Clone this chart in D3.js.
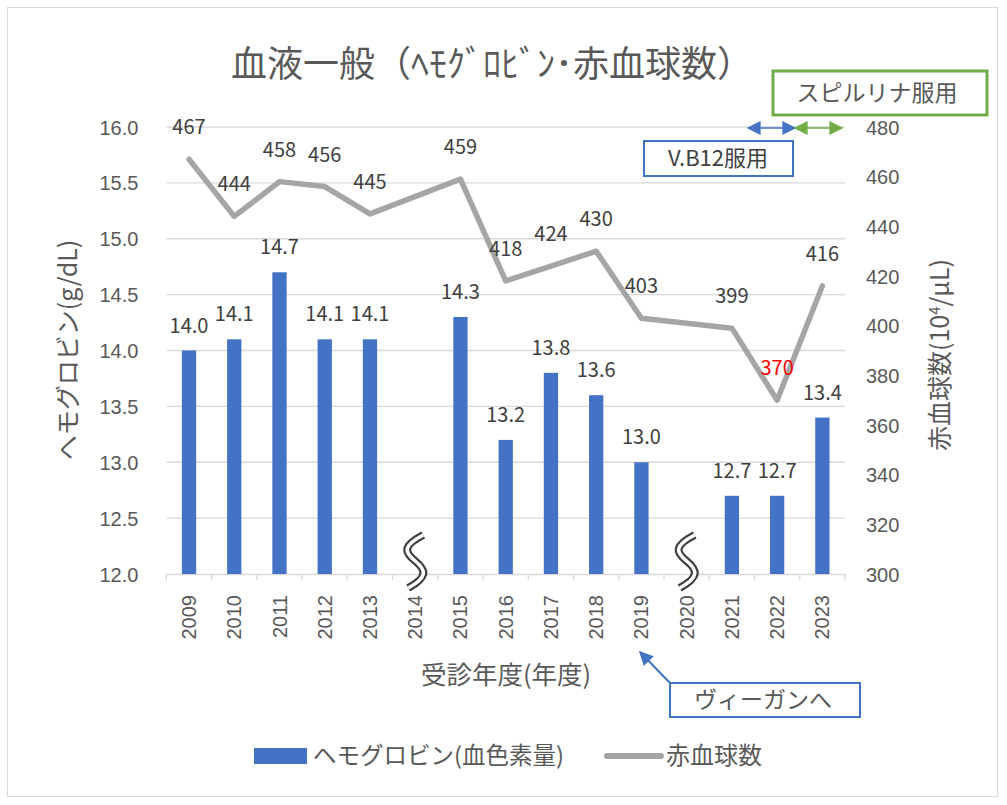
<!DOCTYPE html>
<html><head><meta charset="utf-8">
<script src="https://cdn.jsdelivr.net/npm/d3@7"></script>
<style>
html,body{margin:0;padding:0;background:#fff;}
svg{display:block;font-family:"Noto Sans CJK JP","Noto Sans",sans-serif;}
</style></head>
<body>
<svg id="c" width="1007" height="805"></svg>
<script>
const years = ["2009","2010","2011","2012","2013","2014","2015","2016","2017","2018","2019","2020","2021","2022","2023"];
const hemoglobin = [14.0,14.1,14.7,14.1,14.1,null,14.3,13.2,13.8,13.6,13.0,null,12.7,12.7,13.4];
const rbcCount = [467,444,458,456,445,null,459,418,424,430,403,null,399,370,416];
const leftTicks = [12.0,12.5,13.0,13.5,14.0,14.5,15.0,15.5,16.0];
const rightTicks = [300,320,340,360,380,400,420,440,460,480];
const breakYears = ["2014","2020"];
const highlightYear = "2022";

const svg = d3.select("#c");
const L = 166.4, R = 845, T = 127, B = 574;
const textCol = "#595959", lblCol = "#404040", grid = "#D9D9D9";
const blue = "#4472C4", green = "#70AD47", gray = "#A5A5A5";

// outer border
svg.append("rect").attr("x",7.5).attr("y",7.5).attr("width",990).attr("height",789)
  .attr("fill","none").attr("stroke","#D9D9D9");

const x = d3.scaleBand().domain(years).range([L,R]).paddingInner(0).paddingOuter(0);
const yL = d3.scaleLinear().domain([12,16]).range([B,T]);
const yR = d3.scaleLinear().domain([300,480]).range([B,T]);

// gridlines
svg.append("g").selectAll("line").data(leftTicks.filter(d=>d>12)).join("line")
  .attr("x1",L).attr("x2",R).attr("y1",d=>yL(d)).attr("y2",d=>yL(d))
  .attr("stroke",grid).attr("stroke-width",1.3);

// left axis
const gl = svg.append("g").attr("transform",`translate(${L-28},0)`)
  .call(d3.axisLeft(yL).tickValues(leftTicks).tickFormat(d3.format(".1f")).tickSize(0).tickPadding(0));
gl.select(".domain").remove();
gl.selectAll("text").attr("fill",textCol).attr("font-size",20).attr("dy","0.35em");

// right axis
const gr = svg.append("g").attr("transform",`translate(${R+21},0)`)
  .call(d3.axisRight(yR).tickValues(rightTicks).tickSize(0).tickPadding(0));
gr.select(".domain").remove();
gr.selectAll("text").attr("fill",textCol).attr("font-size",20).attr("dy","0.35em");

// bottom axis
const gb = svg.append("g").attr("transform",`translate(0,${B})`)
  .call(d3.axisBottom(x).tickSize(0).tickPadding(0));
gb.select(".domain").attr("stroke",grid).attr("stroke-width",1.3);
gb.selectAll("text").attr("fill",textCol).attr("font-size",20)
  .attr("transform","rotate(-90)").attr("text-anchor","end")
  .attr("x",-21).attr("y",0).attr("dy","0.35em");
// tick marks at category boundaries
svg.append("g").selectAll("line").data(d3.range(years.length+1)).join("line")
  .attr("x1",i=>L+i*x.step()).attr("x2",i=>L+i*x.step())
  .attr("y1",B).attr("y2",B+6).attr("stroke",grid).attr("stroke-width",1.3);

// bars
const bw = 14.3;
const barData = years.map((y,i)=>({y,v:hemoglobin[i]})).filter(d=>d.v!=null);
svg.append("g").selectAll("rect").data(barData).join("rect")
  .attr("x",d=>x(d.y)+x.bandwidth()/2-bw/2).attr("width",bw)
  .attr("y",d=>yL(d.v)).attr("height",d=>B-yL(d.v)).attr("fill",blue);
svg.append("g").selectAll("text").data(barData).join("text")
  .attr("x",d=>x(d.y)+x.bandwidth()/2).attr("y",d=>yL(d.v)-25).attr("dy","0.35em")
  .attr("text-anchor","middle").attr("font-size",20).attr("fill",lblCol)
  .text(d=>d3.format(".1f")(d.v));

// line
const lineData = years.map((y,i)=>({y,v:rbcCount[i]})).filter(d=>d.v!=null);
const line = d3.line().x(d=>x(d.y)+x.bandwidth()/2).y(d=>yR(d.v));
svg.append("path").datum(lineData).attr("d",line).attr("fill","none")
  .attr("stroke",gray).attr("stroke-width",5.5).attr("stroke-linejoin","round").attr("stroke-linecap","round");
svg.append("g").selectAll("text").data(lineData).join("text")
  .attr("x",d=>x(d.y)+x.bandwidth()/2).attr("y",d=>yR(d.v)-32).attr("dy","0.35em")
  .attr("text-anchor","middle").attr("font-size",20)
  .attr("fill",d=>d.y===highlightYear?"#FF0000":lblCol)
  .text(d=>d.v);

// break marks
breakYears.forEach(yr=>{
  const cx = x(yr)+x.bandwidth()/2;
  const p = `M${cx+8},535 C${cx-13},546 ${cx-11},552 ${cx},561 C${cx+11},570 ${cx+13},577 ${cx-7},588`;
  svg.append("path").attr("d",p).attr("fill","none").attr("stroke","#404040").attr("stroke-width",8);
  svg.append("path").attr("d",p).attr("fill","none").attr("stroke","#fff").attr("stroke-width",3.5);
});

// title
svg.append("text").attr("x",492).attr("y",64).attr("dy","0.35em").attr("text-anchor","middle")
  .attr("font-size",36).attr("fill",textCol).text("血液一般（ﾍﾓｸﾞﾛﾋﾞﾝ･赤血球数）");

// axis titles
svg.append("text").attr("transform","translate(68,350) rotate(-90)").attr("text-anchor","middle")
  .attr("dy","0.35em").attr("font-size",25).attr("fill",textCol).text("ヘモグロビン(g/dL)");
const rt = svg.append("text").attr("transform","translate(940,355) rotate(-90)").attr("text-anchor","middle")
  .attr("dy","0.35em").attr("font-size",25).attr("fill",textCol);
rt.append("tspan").text("赤血球数(10");
rt.append("tspan").attr("font-size",15).attr("dy","-0.6em").text("4");
rt.append("tspan").attr("dy","0.35em").text("/μL)");
svg.append("text").attr("x",506).attr("y",675).attr("dy","0.35em").attr("text-anchor","middle")
  .attr("font-size",25.5).attr("fill",textCol).text("受診年度(年度)");

// legend
svg.append("rect").attr("x",254).attr("y",748).attr("width",53).attr("height",16).attr("fill",blue);
svg.append("text").attr("x",313).attr("y",756).attr("dy","0.35em").attr("font-size",23.5).attr("fill",textCol)
  .text("ヘモグロビン(血色素量)");
svg.append("line").attr("x1",607).attr("x2",661).attr("y1",756).attr("y2",756)
  .attr("stroke",gray).attr("stroke-width",6).attr("stroke-linecap","round");
svg.append("text").attr("x",666).attr("y",756).attr("dy","0.35em").attr("font-size",24).attr("fill",textCol)
  .text("赤血球数");

// annotations
const defs = svg.append("defs");
function marker(id,col){
  defs.append("marker").attr("id",id).attr("viewBox","0 0 10 10").attr("refX",9).attr("refY",5)
    .attr("markerWidth",15).attr("markerHeight",14).attr("orient","auto-start-reverse").attr("markerUnits","userSpaceOnUse")
    .append("path").attr("d","M0,0 L10,5 L0,10 Z").attr("fill",col);
}
marker("mb",blue); marker("mg",green);

svg.append("rect").attr("x",773).attr("y",71).attr("width",214).attr("height",44)
  .attr("fill","#fff").attr("stroke",green).attr("stroke-width",3);
svg.append("text").attr("x",877).attr("y",93).attr("dy","0.35em").attr("text-anchor","middle")
  .attr("font-size",23).attr("fill",textCol).text("スピルリナ服用");

svg.append("rect").attr("x",644).attr("y",141).attr("width",149).attr("height",35)
  .attr("fill","#fff").attr("stroke",blue).attr("stroke-width",2);
svg.append("text").attr("x",718).attr("y",158).attr("dy","0.35em").attr("text-anchor","middle")
  .attr("font-size",22).attr("fill",lblCol).text("V.B12服用");

svg.append("line").attr("x1",748).attr("x2",795).attr("y1",128).attr("y2",128)
  .attr("stroke",blue).attr("stroke-width",1.6).attr("marker-start","url(#mb)").attr("marker-end","url(#mb)");
svg.append("line").attr("x1",795).attr("x2",842).attr("y1",128).attr("y2",128)
  .attr("stroke",green).attr("stroke-width",1.6).attr("marker-start","url(#mg)").attr("marker-end","url(#mg)");

svg.append("rect").attr("x",670).attr("y",683).attr("width",190).attr("height",34)
  .attr("fill","#fff").attr("stroke",blue).attr("stroke-width",2);
svg.append("text").attr("x",763).attr("y",700).attr("dy","0.35em").attr("text-anchor","middle")
  .attr("font-size",23).attr("fill",textCol).text("ヴィーガンへ");
svg.append("line").attr("x1",670).attr("y1",683).attr("x2",640).attr("y2",652)
  .attr("stroke",blue).attr("stroke-width",2).attr("marker-end","url(#mb)");
</script>
</body></html>
